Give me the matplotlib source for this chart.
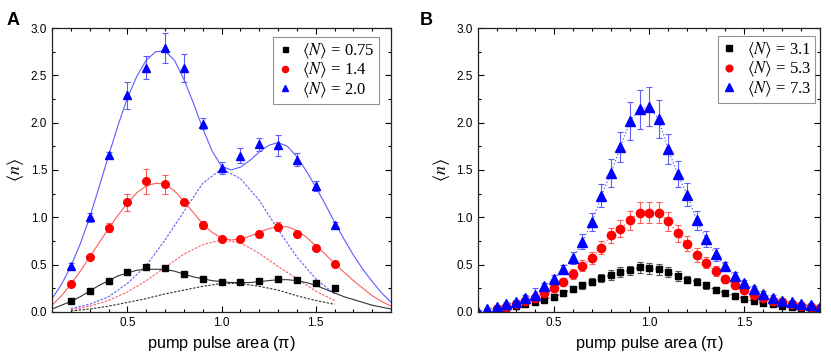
import numpy as np
import matplotlib
matplotlib.use('Agg')
import matplotlib.pyplot as plt
from matplotlib.ticker import MultipleLocator

plt.rcParams['font.family'] = ['Liberation Sans', 'DejaVu Sans']
plt.rcParams['mathtext.fontset'] = 'stix'

# ---- panel A data ----
xa = [0.2, 0.3, 0.4, 0.5, 0.6, 0.7, 0.8, 0.9, 1.0, 1.1, 1.2, 1.3, 1.4, 1.5, 1.6]
a_black = [0.11, 0.22, 0.33, 0.42, 0.47, 0.46, 0.40, 0.35, 0.32, 0.32, 0.33, 0.35, 0.34, 0.30, 0.25]
a_black_err = [0.01, 0.01, 0.01, 0.01, 0.01, 0.01, 0.01, 0.01, 0.01, 0.01, 0.01, 0.01, 0.01, 0.01, 0.01]
a_red = [0.29, 0.58, 0.89, 1.16, 1.38, 1.35, 1.16, 0.92, 0.77, 0.77, 0.82, 0.90, 0.82, 0.67, 0.51]
a_red_err = [0.02, 0.02, 0.05, 0.09, 0.13, 0.10, 0.03, 0.04, 0.03, 0.02, 0.03, 0.05, 0.03, 0.03, 0.02]
a_blue = [0.49, 1.00, 1.66, 2.29, 2.58, 2.79, 2.58, 1.99, 1.52, 1.65, 1.77, 1.76, 1.61, 1.33, 0.92]
a_blue_err = [0.03, 0.05, 0.03, 0.14, 0.12, 0.16, 0.15, 0.06, 0.06, 0.08, 0.07, 0.11, 0.07, 0.05, 0.03]

# theory curves
xs = [0.1, 0.15, 0.2, 0.25, 0.3, 0.35, 0.4, 0.45, 0.5, 0.55, 0.6, 0.65, 0.7, 0.75, 0.8, 0.85, 0.9, 0.95,
      1.0, 1.05, 1.1, 1.15, 1.2, 1.25, 1.3, 1.35, 1.4, 1.45, 1.5, 1.55, 1.6, 1.65, 1.7, 1.75, 1.8, 1.85, 1.9]
s_blue = [0.14, 0.29, 0.48, 0.72, 1.00, 1.32, 1.65, 1.97, 2.26, 2.49, 2.66, 2.75, 2.76, 2.66, 2.46, 2.21,
          1.94, 1.70, 1.54, 1.50, 1.53, 1.60, 1.69, 1.76, 1.79, 1.75, 1.64, 1.49, 1.32, 1.14, 0.95,
          0.77, 0.60, 0.45, 0.32, 0.20, 0.10]
s_red = [0.07, 0.17, 0.29, 0.43, 0.58, 0.73, 0.88, 1.02, 1.15, 1.26, 1.33, 1.36, 1.35, 1.28, 1.17, 1.05,
         0.93, 0.84, 0.78, 0.76, 0.77, 0.80, 0.84, 0.88, 0.90, 0.90, 0.86, 0.79, 0.70, 0.61, 0.51,
         0.42, 0.33, 0.25, 0.17, 0.11, 0.06]
s_black = [0.03, 0.07, 0.11, 0.16, 0.22, 0.28, 0.33, 0.38, 0.41, 0.44, 0.45, 0.45, 0.45, 0.43, 0.40, 0.37,
           0.35, 0.33, 0.32, 0.31, 0.31, 0.31, 0.32, 0.33, 0.34, 0.34, 0.33, 0.31, 0.28, 0.24, 0.20,
           0.16, 0.13, 0.10, 0.07, 0.05, 0.03]
xd = [0.2, 0.3, 0.4, 0.5, 0.6, 0.7, 0.8, 0.9, 1.0, 1.1, 1.2, 1.3, 1.4, 1.5, 1.6]
d_blue = [0.035, 0.08, 0.16, 0.30, 0.49, 0.76, 1.06, 1.36, 1.51, 1.41, 1.18, 0.87, 0.58, 0.35, 0.19]
d_red = [0.02, 0.06, 0.12, 0.21, 0.33, 0.47, 0.61, 0.71, 0.76, 0.73, 0.62, 0.48, 0.35, 0.22, 0.12]
d_black = [0.01, 0.03, 0.06, 0.10, 0.14, 0.19, 0.23, 0.27, 0.30, 0.30, 0.27, 0.23, 0.17, 0.12, 0.08]

# ---- panel B data ----
xb = [0.1, 0.15, 0.2, 0.25, 0.3, 0.35, 0.4, 0.45, 0.5, 0.55, 0.6, 0.65, 0.7, 0.75, 0.8, 0.85, 0.9, 0.95,
      1.0, 1.05, 1.1, 1.15, 1.2, 1.25, 1.3, 1.35, 1.4, 1.45, 1.5, 1.55, 1.6, 1.65, 1.7, 1.75, 1.8, 1.85, 1.9]
b_blue = [0.00, 0.03, 0.05, 0.08, 0.10, 0.15, 0.18, 0.27, 0.35, 0.45, 0.57, 0.74, 0.95, 1.23, 1.47, 1.74,
          2.02, 2.14, 2.17, 2.04, 1.72, 1.46, 1.24, 0.97, 0.77, 0.61, 0.48, 0.38, 0.30, 0.24, 0.19,
          0.15, 0.12, 0.10, 0.08, 0.07, 0.05]
b_blue_err = [0.01, 0.01, 0.02, 0.02, 0.03, 0.03, 0.07, 0.04, 0.04, 0.05, 0.06, 0.08, 0.10, 0.12, 0.15, 0.16,
              0.20, 0.21, 0.21, 0.20, 0.16, 0.14, 0.12, 0.10, 0.08, 0.07, 0.05, 0.04, 0.04, 0.03, 0.03,
              0.03, 0.03, 0.02, 0.02, 0.02, 0.02]
xb2 = xb[2:]
b_red = [0.03, 0.05, 0.08, 0.12, 0.15, 0.20, 0.25, 0.32, 0.40, 0.49, 0.57, 0.68, 0.81, 0.88,
         0.97, 1.05, 1.05, 1.05, 0.96, 0.83, 0.72, 0.60, 0.52, 0.43, 0.35, 0.28, 0.23, 0.18, 0.15,
         0.12, 0.10, 0.08, 0.06, 0.05, 0.04]
b_red_err = [0.01, 0.01, 0.02, 0.02, 0.03, 0.03, 0.04, 0.04, 0.05, 0.06, 0.06, 0.07, 0.08, 0.09,
             0.10, 0.11, 0.11, 0.11, 0.10, 0.09, 0.08, 0.07, 0.06, 0.05, 0.04, 0.04, 0.03, 0.03, 0.02,
             0.02, 0.02, 0.02, 0.01, 0.01, 0.01]
b_black = [0.01, 0.03, 0.06, 0.08, 0.10, 0.13, 0.16, 0.20, 0.24, 0.28, 0.32, 0.36, 0.39, 0.42,
           0.44, 0.47, 0.46, 0.45, 0.42, 0.38, 0.34, 0.32, 0.28, 0.23, 0.20, 0.17, 0.14, 0.11, 0.09,
           0.08, 0.06, 0.05, 0.04, 0.03, 0.03]
b_black_err = [0.01, 0.01, 0.01, 0.02, 0.02, 0.02, 0.03, 0.03, 0.03, 0.04, 0.04, 0.04, 0.05, 0.05,
               0.05, 0.06, 0.06, 0.06, 0.05, 0.05, 0.04, 0.04, 0.04, 0.03, 0.03, 0.03, 0.02, 0.02, 0.02,
               0.02, 0.01, 0.01, 0.01, 0.01, 0.01]

labels_a = [r'$\langle N\rangle$ = 0.75', r'$\langle N\rangle$ = 1.4', r'$\langle N\rangle$ = 2.0']
labels_b = [r'$\langle N\rangle$ = 3.1', r'$\langle N\rangle$ = 5.3', r'$\langle N\rangle$ = 7.3']

BLUE = '#0000ff'
RED = '#ff0000'
LBLUE = '#5c5cff'
LRED = '#ff5c5c'
GRAY = '#333333'

fig = plt.figure(figsize=(8.31, 3.56), dpi=100)
axA = fig.add_axes([0.0626, 0.124, 0.408, 0.797])
axB = fig.add_axes([0.575, 0.124, 0.412, 0.797])


def style(ax):
    ax.set_xlim(0.1, 1.9)
    ax.set_ylim(0, 3.0)
    ax.xaxis.set_major_locator(MultipleLocator(0.5))
    ax.xaxis.set_minor_locator(MultipleLocator(0.1))
    ax.yaxis.set_major_locator(MultipleLocator(0.5))
    ax.yaxis.set_minor_locator(MultipleLocator(0.25))
    ax.set_yticks(np.arange(0, 3.01, 0.5))
    ax.set_yticklabels(['0.0', '0.5', '1.0', '1.5', '2.0', '2.5', '3.0'])
    ax.tick_params(which='both', direction='in', top=True, right=True, labelsize=8.5, width=0.8)
    ax.tick_params(which='major', length=4)
    ax.tick_params(which='minor', length=2.5)
    for s in ax.spines.values():
        s.set_linewidth(0.9)
        s.set_color('#222222')
    ax.set_xlabel(r'pump pulse area ($\mathregular{\pi}$)', fontsize=11.7, labelpad=4)
    ax.set_ylabel(r'$\langle n\rangle$', fontsize=13, labelpad=3)


ebk = dict(elinewidth=0.8, capsize=2, capthick=0.8, linestyle='none')
dash = (0, (2.2, 1.3))
legkw = dict(loc='upper right', prop={'family': ['Liberation Serif', 'DejaVu Serif'], 'size': 12},
             frameon=True, fancybox=False, edgecolor='#777777', borderpad=0.25, labelspacing=0.0,
             handletextpad=0.6, handlelength=0.9, borderaxespad=0.0, markerscale=0.8)

# panel A
axA.plot(xd, d_black, color=GRAY, lw=0.8, ls=dash)
axA.plot(xd, d_red, color=LRED, lw=0.8, ls=dash)
axA.plot(xd, d_blue, color=LBLUE, lw=0.8, ls=dash)
axA.plot(xs, s_black, '-', color=GRAY, lw=0.8)
axA.plot(xs, s_red, '-', color=LRED, lw=0.8)
axA.plot(xs, s_blue, '-', color=LBLUE, lw=0.8)
axA.errorbar(xa, a_black, yerr=a_black_err, ecolor='#888888', **ebk)
axA.errorbar(xa, a_red, yerr=a_red_err, ecolor=LRED, **ebk)
axA.errorbar(xa, a_blue, yerr=a_blue_err, ecolor=LBLUE, **ebk)
hA = []
hA.append(axA.plot(xa, a_black, 's', color='black', ms=4.5, label=labels_a[0], ls='none')[0])
hA.append(axA.plot(xa, a_red, 'o', color=RED, ms=5.5, label=labels_a[1], ls='none')[0])
hA.append(axA.plot(xa, a_blue, '^', color=BLUE, ms=6, label=labels_a[2], ls='none')[0])
style(axA)
legA = axA.legend(handles=hA, bbox_to_anchor=(0.965, 0.968), **legkw)
legA.get_frame().set_linewidth(0.8)
fig.text(0.008, 0.93, 'A', fontsize=13, fontweight='bold')

# panel B
axB.plot(xb, b_blue, ':', color=LBLUE, lw=0.9)
axB.plot(xb2, b_red, ':', color=LRED, lw=0.9)
axB.plot(xb2, b_black, ':', color=GRAY, lw=0.9)
axB.errorbar(xb, b_blue, yerr=b_blue_err, ecolor=LBLUE, **ebk)
axB.errorbar(xb2, b_red, yerr=b_red_err, ecolor=LRED, **ebk)
axB.errorbar(xb2, b_black, yerr=b_black_err, ecolor='#555555', **ebk)
hB = []
hB.append(axB.plot(xb2, b_black, 's', color='black', ms=5, label=labels_b[0], ls='none')[0])
hB.append(axB.plot(xb2, b_red, 'o', color=RED, ms=6, label=labels_b[1], ls='none')[0])
hB.append(axB.plot(xb, b_blue, '^', color=BLUE, ms=6.5, label=labels_b[2], ls='none')[0])
style(axB)
legB = axB.legend(handles=hB, bbox_to_anchor=(0.985, 0.972), **legkw)
legB.get_frame().set_linewidth(0.8)
fig.text(0.505, 0.93, 'B', fontsize=13, fontweight='bold')

fig.savefig('out.png', dpi=100)
